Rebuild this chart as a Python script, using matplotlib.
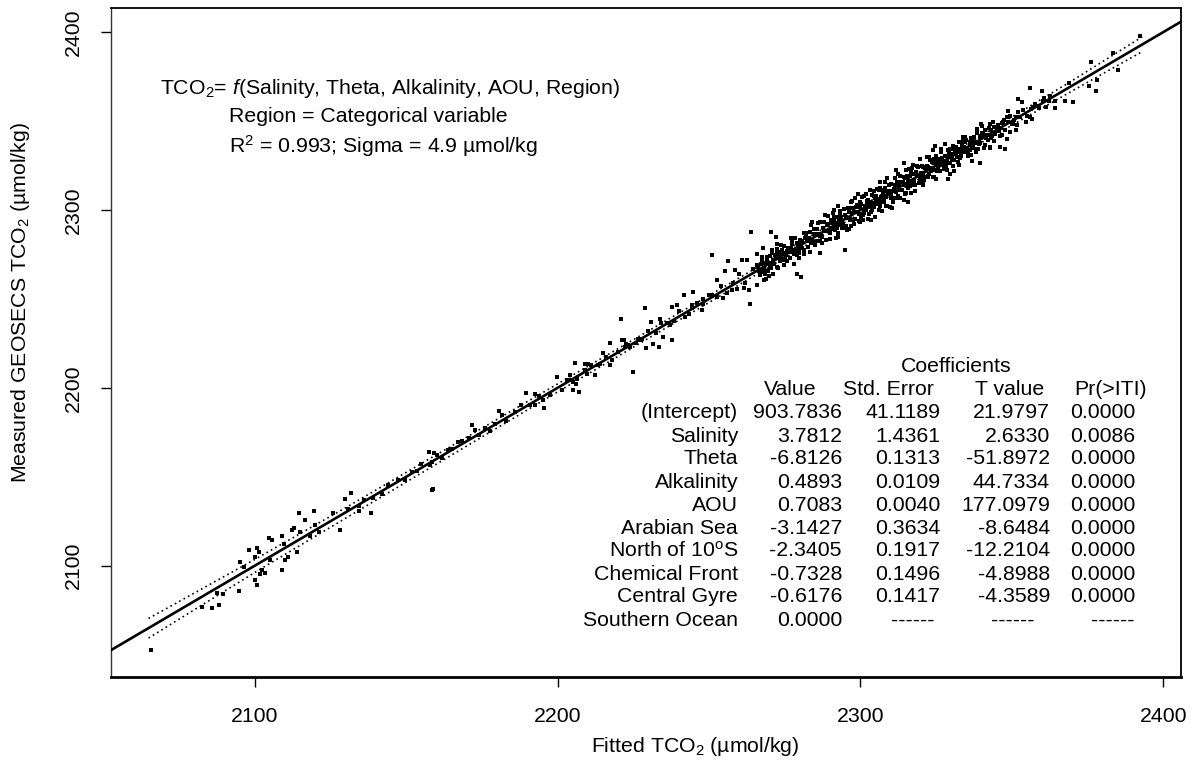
import matplotlib
matplotlib.use("Agg")
import matplotlib.pyplot as plt
import numpy as np

plt.rcParams['font.family'] = ['Liberation Sans', 'DejaVu Sans']
plt.rcParams['mathtext.fontset'] = 'custom'
plt.rcParams['mathtext.rm'] = 'Liberation Sans'
plt.rcParams['mathtext.it'] = 'Liberation Sans:italic'
plt.rcParams['mathtext.bf'] = 'Liberation Sans:bold'

# ---------------- data: individually readable points (fitted, measured) ----------------
fitted_pts = [
    2065.7, 2082.6, 2085.9, 2088.4, 2087.7, 2089.5, 2094.7, 2095.2, 2096.4, 2098.3,
    2100.1, 2100.7, 2100.7, 2100.2, 2101.3, 2101.7, 2102.4, 2103.5, 2104.9, 2105.9,
    2105.1, 2109.2, 2109.2, 2110.1, 2111.0, 2109.7, 2112.3, 2113.0, 2114.1, 2114.8,
    2115.0, 2116.7, 2118.3, 2119.6, 2120.0, 2121.3, 2125.8, 2128.2, 2130.0, 2131.8,
    2130.9, 2134.5, 2134.5, 2138.3, 2142.0, 2147.3, 2158.5, 2158.8, 2157.7, 2159.2,
    2160.1, 2157.9, 2158.5, 2153.5, 2165.1, 2167.3, 2171.7, 2172.8, 2170.9, 2177.7,
    2180.8, 2181.6, 2179.4, 2189.6, 2192.6, 2195.3, 2195.6, 2197.5, 2192.6,
    2199.7, 2201.6, 2203.9, 2204.1, 2205.0, 2205.9, 2206.1, 2205.2, 2207.0,
    2209.1, 2210.2, 2209.6, 2212.4, 2214.0, 2214.9, 2217.3, 2217.3, 2220.9, 2221.2,
    2221.9, 2222.3, 2223.4, 2225.0, 2225.9, 2227.2, 2228.9, 2229.2, 2230.8, 2231.6,
    2233.5, 2233.8, 2234.9, 2237.1, 2237.9, 2237.7, 2239.5, 2241.7, 2243.5, 2244.8,
    2244.3, 2247.6, 2248.1, 2250.9, 2250.9, 2252.7, 2254.7, 2255.3, 2256.4, 2257.5,
    2258.6, 2259.1, 2260.8, 2261.6, 2262.4, 2263.2, 2263.5, 2263.8, 2265.7, 2265.7,
    2266.8, 2268.2, 2269.0, 2270.4, 2270.7, 2271.2, 2272.1, 2272.5, 2272.9,
    2267.9, 2284.0, 2290.3, 2291.4, 2295.0, 2286.8, 2280.2, 2278.9, 2292.7, 2296.8,
    2299.1, 2303.1, 2300.9, 2304.8, 2308.4, 2310.3, 2306.4, 2311.7, 2314.4, 2315.8,
    2317.4, 2323.8, 2324.6, 2329.0, 2329.5, 2327.9, 2320.7, 2314.7,
    2392.3, 2383.2, 2376.0, 2385.1, 2378.0, 2377.7, 2375.5, 2368.9, 2370.0, 2367.5,
    2364.2, 2359.8, 2355.9, 2352.1, 2353.2, 2360.3, 2361.2, 2358.7, 2357.0, 2362.5,
    2364.2, 2355.9, 2356.5, 2354.6, 2352.1, 2348.8, 2348.2, 2350.7, 2349.9, 2347.1,
    2351.7, 2345.5, 2342.7, 2340.0, 2338.3, 2341.6, 2344.4, 2346.6, 2348.2, 2349.3,
    2351.3, 2344.1, 2346.1, 2347.7, 2342.7, 2339.4, 2338.1, 2336.1, 2333.9, 2332.8,
    2331.2,
]
measured_pts = [
    2052.9, 2076.9, 2076.0, 2078.0, 2084.7, 2084.0, 2086.1, 2102.0, 2099.2, 2109.1,
    2092.0, 2089.0, 2110.2, 2104.9, 2107.8, 2095.2, 2097.5, 2096.0, 2115.8, 2114.7,
    2103.5, 2116.7, 2097.5, 2103.1, 2104.9, 2112.5, 2119.9, 2121.5, 2108.0, 2129.9,
    2119.0, 2125.6, 2117.0, 2130.8, 2122.8, 2119.0, 2129.7, 2119.9, 2137.8, 2140.7,
    2132.1, 2133.4, 2130.8, 2129.7, 2140.6, 2148.4, 2142.4, 2143.1, 2163.9, 2163.4,
    2162.1, 2156.5, 2158.3, 2153.3, 2165.8, 2169.6, 2178.9, 2176.5, 2172.0, 2175.7,
    2186.8, 2184.6, 2179.9, 2197.1, 2196.7, 2193.0, 2188.9, 2195.8, 2190.2,
    2206.1, 2199.0, 2204.2, 2207.0, 2203.3, 2214.2, 2202.0, 2198.6, 2197.6,
    2213.6, 2213.2, 2208.0, 2207.0, 2213.2, 2219.6, 2212.6, 2225.2, 2238.9, 2227.1,
    2226.7, 2222.9, 2223.9, 2208.9, 2225.2, 2226.7, 2245.1, 2222.6, 2237.0, 2224.8,
    2222.9, 2238.9, 2228.5, 2235.1, 2227.1, 2245.4, 2246.3, 2252.0, 2241.7, 2253.8,
    2246.3, 2243.5, 2250.1, 2274.8, 2252.0, 2260.8, 2250.7, 2265.6, 2271.2, 2254.8,
    2266.0, 2255.7, 2271.6, 2256.3, 2271.6, 2254.8, 2246.9, 2287.5, 2275.0, 2257.6,
    2263.2, 2260.4, 2271.6, 2287.5, 2277.6, 2264.2, 2284.7, 2281.0, 2275.4,
    2278.5, 2293.1, 2294.5, 2299.7, 2277.6, 2275.7, 2262.2, 2263.8, 2302.0, 2304.4,
    2308.7, 2311.3, 2294.1, 2296.0, 2302.0, 2301.2, 2315.6, 2322.2, 2326.3, 2304.4,
    2325.0, 2333.8, 2336.2, 2317.5, 2320.3, 2326.9, 2315.6, 2308.7,
    2397.5, 2388.3, 2383.4, 2378.4, 2373.1, 2367.1, 2369.4, 2371.2, 2360.4, 2361.5,
    2361.0, 2366.6, 2368.3, 2362.5, 2360.6, 2361.5, 2358.1, 2358.7, 2358.1, 2364.3,
    2357.4, 2352.1, 2351.2, 2349.3, 2354.9, 2355.5, 2352.1, 2350.7, 2348.4, 2349.3,
    2348.0, 2346.5, 2348.4, 2346.9, 2345.6, 2341.9, 2342.8, 2341.9, 2340.0, 2343.7,
    2344.7, 2338.6, 2335.3, 2334.4, 2334.9, 2326.3, 2332.5, 2337.2, 2339.0, 2332.5,
    2335.3,
]

# ---------------- data: points hugging the line (fitted, residual = measured - fitted) ----------------
fitted_near = [
    2136.0, 2139.0, 2144.0, 2149.5, 2152.0, 2155.0, 2162.0, 2164.0, 2168.5, 2174.0,
    2176.0, 2183.0, 2186.0, 2188.0, 2191.0, 2194.0,
    2203.0, 2206.5, 2209.0, 2211.0, 2213.5, 2216.0, 2218.0, 2220.0, 2222.5, 2224.0,
    2226.5, 2228.0, 2230.0, 2232.5, 2234.0, 2236.0, 2238.5, 2240.0, 2242.0, 2244.5,
    2246.0, 2248.0, 2250.0, 2252.5, 2254.0, 2256.0, 2258.0, 2260.0, 2262.0, 2264.5,
]
resid_near = [
    1.0, -0.8, 1.5, -1.1, 0.6, 2.0, -1.4, 0.9, 1.8, -0.5,
    1.2, -1.6, 0.7, 2.2, -0.9, 1.3,
    1.2, -1.5, 0.8, 2.0, -0.6, 1.4, -2.1, 0.3, 2.4, -1.2,
    0.9, -0.3, 1.7, -1.8, 2.6, 0.2, -1.0, 3.1, -2.4, 0.6,
    1.9, -0.8, 2.2, -1.6, 3.4, -2.9, 1.1, 4.0, -3.2, 2.5,
]

# ---------------- data: dense band 2266-2362 (fitted, residual) ----------------
fitted_band = [
    2266.2, 2266.9, 2267.5, 2268.1, 2268.6, 2269.3, 2269.8, 2270.4, 2270.9, 2271.6,
    2272.0, 2272.7, 2273.1, 2273.8, 2274.3, 2274.9, 2275.4, 2276.0, 2276.7, 2277.1,
    2277.8, 2278.3, 2278.9, 2279.4, 2280.1, 2280.6, 2281.2, 2281.7, 2282.3, 2282.8,
    2283.5, 2284.0, 2284.6, 2285.1, 2285.7, 2286.3, 2286.8, 2287.4, 2287.9, 2288.5,
    2289.0, 2289.6,
    2266.5, 2267.2, 2268.3, 2269.0, 2270.1, 2271.2, 2272.3, 2273.4, 2274.6, 2275.7,
    2276.4, 2277.5, 2278.6, 2279.7, 2280.8, 2281.9, 2283.1, 2284.3, 2285.4, 2286.5,
    2287.6, 2288.8, 2289.9,
    2266.0, 2266.8, 2267.7, 2268.5, 2269.5, 2270.2, 2271.0, 2271.9, 2272.6, 2273.5,
    2274.1, 2275.0, 2275.8, 2276.6, 2277.3, 2278.1, 2279.0, 2279.8, 2280.4, 2281.4,
    2282.1, 2283.0, 2283.7, 2284.8, 2285.6, 2286.0, 2287.1, 2288.0, 2288.6, 2289.4,
    2290.2, 2290.7, 2291.1, 2291.6, 2292.0, 2292.5, 2292.9, 2293.4, 2293.8, 2294.3,
    2294.7, 2295.2, 2295.6, 2296.1, 2296.5, 2297.0, 2297.4, 2297.9, 2298.3, 2298.8,
    2299.2, 2299.7, 2300.1, 2300.6, 2301.0, 2301.5, 2301.9, 2302.4, 2302.8, 2303.3,
    2303.7, 2304.2, 2304.6, 2305.1, 2305.5, 2306.0, 2306.4, 2306.9, 2307.3, 2307.8,
    2308.2, 2308.7, 2309.1, 2309.6, 2310.0, 2310.5, 2310.9, 2311.4, 2311.8, 2312.3,
    2312.7, 2313.2, 2313.6, 2314.1, 2314.5, 2315.0, 2315.4, 2315.9, 2316.3, 2316.8,
    2317.2, 2317.7, 2318.1, 2318.6, 2319.0, 2319.5,
    2290.4, 2291.3, 2292.2, 2293.1, 2294.0, 2294.9, 2295.8, 2296.7, 2297.6, 2298.5,
    2299.4, 2300.3, 2301.2, 2302.1, 2303.0, 2303.9, 2304.8, 2305.7, 2306.6, 2307.5,
    2308.4, 2309.3, 2310.2, 2311.1, 2312.0, 2312.9, 2313.8, 2314.7, 2315.6, 2316.5,
    2317.4, 2318.3, 2319.2,
    2290.1, 2290.8, 2291.5, 2292.3, 2293.0, 2293.6, 2294.4, 2295.1, 2295.9, 2296.6,
    2297.2, 2297.8, 2298.6, 2299.3, 2300.0, 2300.8, 2301.4, 2302.2, 2302.9, 2303.6,
    2304.3, 2305.0, 2305.8, 2306.5, 2307.2, 2307.9, 2308.6, 2309.4, 2310.1, 2310.8,
    2311.6, 2312.2, 2312.8, 2313.5, 2314.3, 2315.1, 2315.8, 2316.4, 2317.1, 2317.8,
    2318.5, 2319.3,
    2290.9, 2292.7, 2294.5, 2296.3, 2298.1, 2299.9, 2301.7, 2303.5, 2305.3, 2307.1,
    2308.9, 2310.7, 2312.5, 2314.3, 2316.1, 2317.9, 2319.7,
    2320.0, 2320.5, 2321.0, 2321.5, 2322.0, 2322.5, 2323.0, 2323.5, 2324.0, 2324.5,
    2325.0, 2325.5, 2326.0, 2326.5, 2327.0, 2327.5, 2328.0, 2328.5, 2329.0, 2329.5,
    2330.0, 2330.5, 2331.0, 2331.5, 2332.0, 2332.5, 2333.0, 2333.5, 2334.0, 2334.5,
    2335.0, 2335.5, 2336.0, 2336.5, 2337.0, 2337.5, 2338.0, 2338.5, 2339.0, 2339.5,
    2340.0, 2341.0, 2342.0, 2343.0, 2344.0, 2345.0,
    2320.3, 2321.3, 2322.3, 2323.3, 2324.3, 2325.3, 2326.3, 2327.3, 2328.3, 2329.3,
    2330.3, 2331.3, 2332.3, 2333.3, 2334.3, 2335.3, 2336.3, 2337.3, 2338.3, 2339.3,
    2340.5, 2341.5, 2342.5, 2343.5,
    2320.2, 2320.8, 2321.6, 2322.2, 2322.9, 2323.6, 2324.2, 2324.9, 2325.6, 2326.2,
    2326.9, 2327.6, 2328.2, 2328.9, 2329.6, 2330.2, 2330.9, 2331.6, 2332.2, 2332.9,
    2333.6, 2334.2, 2334.9, 2335.6, 2336.2, 2336.9, 2337.6, 2338.2, 2338.9, 2339.6,
    2340.3, 2341.2, 2342.2, 2343.2, 2344.3, 2345.5, 2346.5, 2347.5,
    2345.8, 2346.8, 2347.8, 2348.6, 2349.5, 2350.4, 2351.2, 2352.6, 2353.8, 2355.0,
    2356.2, 2357.5, 2359.0, 2360.6, 2362.2,
    2321.8, 2324.8, 2327.8, 2330.8, 2333.8, 2336.8, 2339.8, 2342.8,
    2268.8, 2273.6, 2278.1, 2283.8, 2288.2,
    2267.4, 2269.9, 2272.4, 2274.8, 2277.0, 2279.6, 2281.5, 2283.3, 2285.9, 2287.2,
    2289.3, 2291.8, 2293.3, 2295.4, 2297.3, 2299.6, 2301.3, 2302.6, 2304.5, 2306.2,
    2308.0, 2309.8, 2311.3, 2313.0, 2314.9, 2316.6, 2318.8, 2320.6, 2322.6, 2324.4,
    2326.6, 2328.6, 2330.6, 2332.6, 2334.6, 2336.6, 2338.6, 2340.8, 2343.8, 2346.2,
]
resid_band = [
    1.5, -2.8, 3.9, -0.6, -4.5, 2.2, 0.4, -3.1, 5.0, -1.7,
    1.1, -5.2, 3.3, 0.0, -2.4, 4.6, -0.9, 2.7, -3.8, 1.6,
    -1.2, 5.8, -4.0, 0.7, 3.1, -2.0, -6.1, 2.4, 0.9, -3.5,
    4.2, -1.4, 1.9, -4.8, 3.6, -0.3, 6.4, -2.6, 0.5, -5.5,
    2.8, -1.1,
    -1.0, 2.6, -3.3, 4.4, -1.9, 0.6, 3.8, -2.2, 1.3, -4.6,
    0.2, 3.4, -1.5, -3.9, 1.8, 4.9, -0.8, -2.9, 0.8, -4.2,
    2.0, 3.2, -6.3,
    3.0, -0.4, -2.1, 1.9, -3.7, 4.1, -1.1, 2.5, -4.4, 0.8,
    3.6, -2.8, 1.4, -0.5, 4.9, -3.0, 2.2, -1.8, 0.3, -4.1,
    3.7, 1.5, -2.5, 4.3, -3.1, 0.6, -1.6, 5.1, -0.2, 2.9,
    2.3, -1.4, 4.7, -3.0, 0.6, -5.4, 1.9, 3.5, -0.7, -2.6,
    5.6, -4.3, 0.1, 2.9, -1.8, -6.2, 3.8, 1.0, -3.6, 4.1,
    -0.2, 2.2, -4.9, 6.5, -1.3, 0.9, -2.1, 3.4, -5.0, 1.4,
    4.5, -0.5, -3.2, 2.6, -1.6, 5.2, -4.4, 0.3, 2.0, -2.8,
    3.9, -6.6, 1.2, -0.9, 4.8, -3.7, 0.7, 2.5, -1.9, -4.7,
    3.1, 6.0, -2.4, 1.6, -0.4, -5.7, 3.6, 0.2, -3.1, 4.3,
    -1.2, 2.7, -4.0, 0.8, 5.4, -2.5,
    -0.8, 3.0, -2.2, 1.1, -4.1, 2.4, -0.1, 4.4, -3.4, 0.5,
    -1.7, 3.3, -2.9, 1.7, -0.6, -3.8, 2.1, 0.4, -2.0, 3.7,
    -1.1, 1.5, -3.3, 0.0, 2.3, -1.5, -2.7, 3.2, 1.0, -0.7,
    -3.5, 2.9, 0.6,
    -3.2, 1.7, -0.3, 3.9, -1.5, 2.6, -4.8, 0.9, 5.1, -2.3,
    1.2, -5.9, 3.0, -0.7, 4.4, -3.9, 0.5, 2.8, -1.0, -4.6,
    3.5, 1.1, -2.6, 5.8, -0.8, -3.4, 2.1, 4.7, -1.9, 0.0,
    -5.1, 3.3, 1.8, -2.2, 4.0, -0.6, -3.7, 2.4, 6.2, -1.4,
    0.4, -4.3,
    7.5, -8.1, 6.2, -7.0, 8.4, -6.8, 7.1, -9.0, 6.6, -7.7,
    8.9, -6.4, 7.8, -8.5, 6.9, -7.3, 9.2,
    -1.6, 3.4, -4.2, 0.9, 2.8, -2.3, 5.1, -0.4, -5.6, 1.8,
    3.9, -3.0, 0.2, 6.1, -1.9, -4.5, 2.4, -0.8, 4.6, -3.3,
    1.3, -6.0, 3.0, 0.5, -2.1, 5.5, -4.0, 1.7, -0.6, 3.6,
    -2.7, -5.2, 2.2, 4.0, -1.1, 0.8, -3.8, 5.0, -2.2, 1.4,
    3.2, -4.4, 0.3, -2.5, 2.7, -0.9,
    0.7, -2.6, 1.9, -1.2, 4.2, -3.6, 2.6, -0.2, -2.9, 3.5,
    -1.4, 0.4, 2.1, -3.1, 1.2, -0.5, -2.4, 2.9, 0.1, -1.8,
    2.3, -1.0, 3.3, -2.0,
    4.6, -0.9, 2.0, -3.9, 0.4, 3.1, -2.0, 5.7, -1.3, -4.1,
    2.5, 0.0, -3.3, 1.6, 4.9, -0.7, -2.8, 3.8, -5.0, 1.0,
    2.7, -1.7, 4.4, -3.5, 0.6, -2.2, 3.4, -0.4, -4.6, 2.0,
    0.9, 3.7, -2.9, 1.8, -1.3, 2.4, -0.6, 3.0,
    -1.2, 2.1, -2.6, 0.8, 3.2, -1.9, 1.3, -0.4, 2.6, -2.1,
    0.5, 1.9, -1.5, 2.4, -0.8,
    8.0, -7.6, 9.1, -8.8, 7.2, -9.5, 8.6, -7.4,
    -7.4, 6.9, -8.2, 7.6, 8.8,
    6.2, -6.8, 5.4, -5.9, 7.0, -6.5, 5.8, -7.2, 6.6, -5.6,
    7.4, -7.8, 6.0, -6.9, 7.7, -5.8, 6.8, -7.5, 5.9, -6.3,
    7.9, -8.0, 6.4, -6.1, 7.3, -7.1, 5.7, -6.6, 6.9, -5.7,
    7.6, -6.2, 5.5, -7.4, 6.3, -5.5, 7.1, -6.0, 5.6, -4.8,
]

# ---------------- data: dotted confidence band offsets ----------------
band_x = [2065, 2100, 2130, 2170, 2200, 2250, 2300, 2340, 2370, 2393]
band_upper_off = [5.4, 3.5, 2.6, 2.3, 2.2, 1.9, 1.7, 2.0, 2.8, 4.3]
band_lower_off = [-5.6, -3.8, -3.3, -2.7, -2.3, -2.0, -1.8, -2.1, -3.0, -4.0]

# ---------------- data: coefficient table ----------------
coef_terms = ["(Intercept)", "Salinity", "Theta", "Alkalinity", "AOU", "Arabian Sea",
              "North of 10$^{\\mathrm{o}}$S", "Chemical Front", "Central Gyre", "Southern Ocean"]
coef_value = ["903.7836", "3.7812", "-6.8126", "0.4893", "0.7083", "-3.1427",
              "-2.3405", "-0.7328", "-0.6176", "0.0000"]
coef_se = ["41.1189", "1.4361", "0.1313", "0.0109", "0.0040", "0.3634",
           "0.1917", "0.1496", "0.1417", "------"]
coef_t = ["21.9797", "2.6330", "-51.8972", "44.7334", "177.0979", "-8.6484",
          "-12.2104", "-4.8988", "-4.3589", "------"]
coef_p = ["0.0000", "0.0086", "0.0000", "0.0000", "0.0000", "0.0000",
          "0.0000", "0.0000", "0.0000", "------"]
coef_headers = ["Value", "Std. Error", "T value", "Pr(>ITI)"]

x_ticks = [2100, 2200, 2300, 2400]
y_ticks = [2100, 2200, 2300, 2400]

# ---------------- figure ----------------
W, H = 1194, 770
fig = plt.figure(figsize=(W / 100, H / 100), dpi=100)
ax = fig.add_axes([111 / W, 1 - 677 / H, (1181 - 111) / W, (677 - 8) / H])
ax.set_xlim(2052.6, 2405.8)
ax.set_ylim(2037.5, 2413.5)

FS = 15.3

# 1:1 line
ax.plot([2052.6, 2405.8], [2052.6, 2405.8], color='black', lw=1.9, zorder=3)

# dotted bands
bx = np.array(band_x, dtype=float)
ax.plot(bx, bx + np.array(band_upper_off), color='black', lw=1.2,
        linestyle=(0, (1.0, 2.0)), zorder=2)
ax.plot(bx, bx + np.array(band_lower_off), color='black', lw=1.2,
        linestyle=(0, (1.0, 2.0)), zorder=2)

# points
fb = np.array(fitted_band)
fn = np.array(fitted_near)
ax.plot(fitted_pts, measured_pts, 's', color='black', ms=2.8, mew=0, zorder=4)
ax.plot(fn, fn + np.array(resid_near), 's', color='black', ms=2.8, mew=0, zorder=4)
ax.plot(fb, fb + np.array(resid_band), 's', color='black', ms=3.2, mew=0, zorder=4)

# axes styling
ax.set_xticks(x_ticks)
ax.set_yticks(y_ticks)
ax.tick_params(axis='both', direction='out', length=7.5, width=1.0, labelsize=FS,
               color='black')
ax.tick_params(axis='x', pad=14)
ax.tick_params(axis='y', pad=13)
for lab in ax.get_yticklabels():
    lab.set_rotation(90)
    lab.set_va('center')
for side in ['top', 'right']:
    ax.spines[side].set_linewidth(1.3)
ax.spines['bottom'].set_linewidth(2.0)
ax.spines['left'].set_linewidth(1.0)
ax.spines['left'].set_color('#333333')

# axis labels
fig.text(695 / W, 1 - 746 / H, "Fitted TCO$_2$ (µmol/kg)", ha='center', va='center',
         fontsize=FS)
fig.text(21 / W, 1 - 303 / H, "Measured GEOSECS TCO$_2$ (µmol/kg)", ha='center',
         va='center', rotation=90, fontsize=FS)

# annotation
fig.text(160 / W, 1 - 88 / H, "TCO$_2$= $\\mathit{f}$(Salinity, Theta, Alkalinity, AOU, Region)",
         ha='left', va='center', fontsize=FS)
fig.text(229 / W, 1 - 117 / H, "Region = Categorical variable", ha='left', va='center',
         fontsize=FS)
fig.text(229 / W, 1 - 146 / H, "R$^2$ = 0.993; Sigma = 4.9 µmol/kg", ha='left',
         va='center', fontsize=FS)

# coefficient table
fig.text(956 / W, 1 - 367 / H, "Coefficients", ha='center', va='center', fontsize=FS)
hdr_x = [790, 888, 1010, 1111]
for hx, h in zip(hdr_x, coef_headers):
    fig.text(hx / W, 1 - 390 / H, h, ha='center', va='center', fontsize=FS)
col_right = [738, 842, 940, 1050, 1135]
dash_center = [None, None, 913, 1013, 1113]
cols = [coef_terms, coef_value, coef_se, coef_t, coef_p]
for i in range(len(coef_terms)):
    yy = 1 - (413 + 23 * i) / H
    for j, col in enumerate(cols):
        s = col[i]
        if s.startswith('---'):
            fig.text(dash_center[j] / W, yy, s, ha='center', va='center', fontsize=FS)
        else:
            fig.text(col_right[j] / W, yy, s, ha='right', va='center', fontsize=FS)

fig.savefig("out.png", dpi=100)
